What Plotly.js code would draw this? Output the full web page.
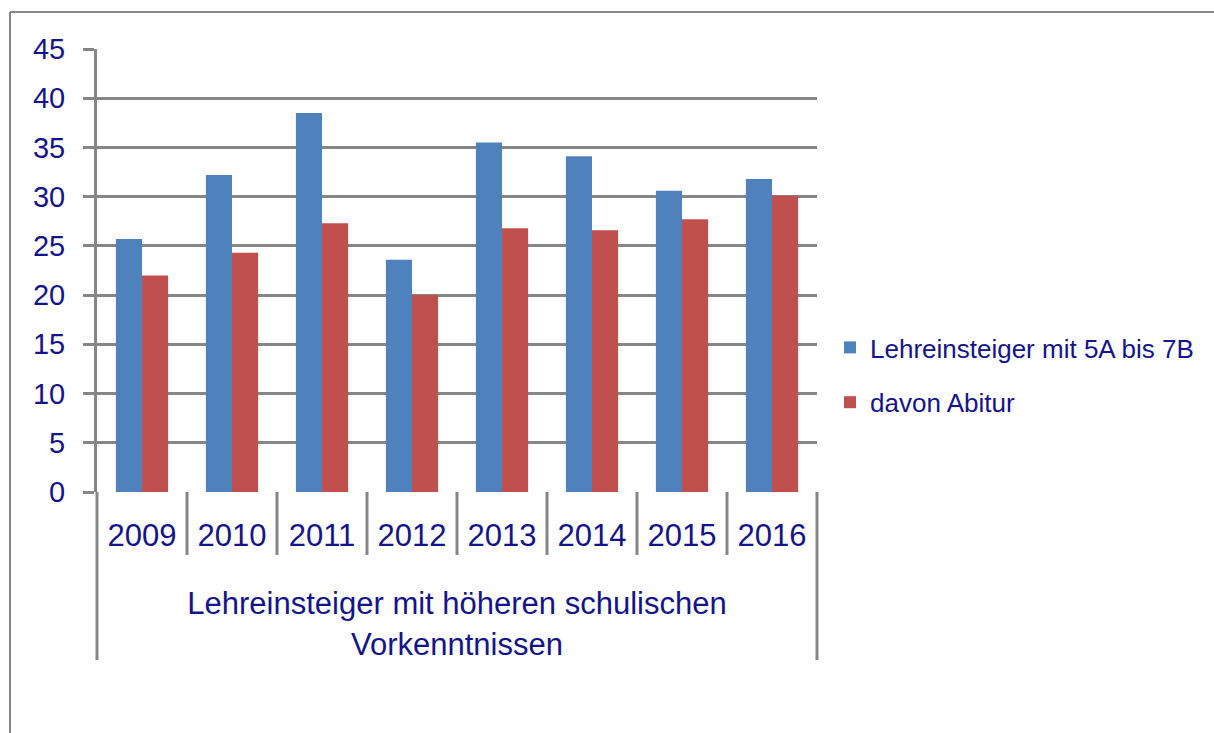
<!DOCTYPE html>
<html>
<head>
<meta charset="utf-8">
<script src="https://cdn.plot.ly/plotly-3.0.1.min.js"></script>
<style>html,body{margin:0;padding:0;background:#fff;}#chart{width:1214px;height:733px;}</style>
</head>
<body>
<div id="chart"></div>
<script>
const years = ['2009','2010','2011','2012','2013','2014','2015','2016'];
const seriesNames = ['Lehreinsteiger mit 5A bis 7B', 'davon Abitur'];
const lehreinsteiger = [25.7, 32.2, 38.5, 23.6, 35.5, 34.1, 30.6, 31.8];
const abitur = [22.0, 24.3, 27.3, 20.0, 26.8, 26.6, 27.7, 30.1];
const groupTitle = 'Lehreinsteiger mit höheren schulischen<br>Vorkenntnissen';

const navy = '#14148a';
const grey = '#868686';
const fontFam = 'Liberation Sans, Arial, sans-serif';

const traces = [
  {type:'bar', x: years, y: lehreinsteiger, name: seriesNames[0], legendgroup:'a',
   marker:{color:'#4F81BD'}, hoverinfo:'x+y'},
  {type:'bar', x: years, y: abitur, name: seriesNames[1], legendgroup:'b',
   marker:{color:'#C0504D'}, hoverinfo:'x+y'}
];

// plot geometry in pixels
const W = 1214, H = 733;
const m = {l:97, r:397, t:49, b:241};
const plotW = W - m.l - m.r, plotH = H - m.t - m.b;
const px2x = p => (p - m.l) / plotW;
const px2y = p => (H - m.b - p) / plotH;

const shapes = [];
// category separators (short) and outer lines (long)
const n = years.length;
for (let i = 0; i <= n; i++) {
  const outer = (i === 0 || i === n);
  shapes.push({type:'line', xref:'paper', yref:'paper', x0:i/n, x1:i/n,
    y0:0, y1: outer ? px2y(660) : px2y(555), line:{color:grey, width:3}, layer:'above'});
}
// chart frame (top and left)
shapes.push({type:'line', xref:'paper', yref:'paper', x0:px2x(10), x1:px2x(1214), y0:px2y(12), y1:px2y(12), line:{color:grey, width:2}});
shapes.push({type:'line', xref:'paper', yref:'paper', x0:px2x(10), x1:px2x(10), y0:px2y(12), y1:px2y(733), line:{color:grey, width:2}});

const layout = {
  width: W, height: H,
  margin: m,
  paper_bgcolor:'#fff', plot_bgcolor:'#fff',
  font:{family: fontFam, color: navy, size: 26},
  barmode:'group', bargap:0.42, bargroupgap:0,
  showlegend:true,
  legend:{x:px2x(830), xanchor:'left', y:px2y(375), yanchor:'middle',
    font:{size:26, color:navy, family:fontFam}, tracegroupgap:18, bgcolor:'rgba(0,0,0,0)'},
  xaxis:{type:'category', showgrid:false, zeroline:false, showline:false, ticks:'',
    tickfont:{size:31, color:navy, family:fontFam}, ticklabelstandoff:22,
    title:{text:groupTitle, font:{size:31, color:navy, family:fontFam}, standoff:40},
    fixedrange:true},
  yaxis:{range:[0,45], dtick:5, tick0:0, showgrid:true, gridcolor:grey, gridwidth:3,
    zeroline:false, showline:true, linecolor:grey, linewidth:3,
    ticks:'outside', ticklen:11, tickwidth:3, tickcolor:grey,
    tickfont:{size:29, color:navy, family:fontFam}, ticklabelstandoff:12, fixedrange:true},
  shapes: shapes
};

Plotly.newPlot('chart', traces, layout, {displayModeBar:false, staticPlot:true});
</script>
</body>
</html>
